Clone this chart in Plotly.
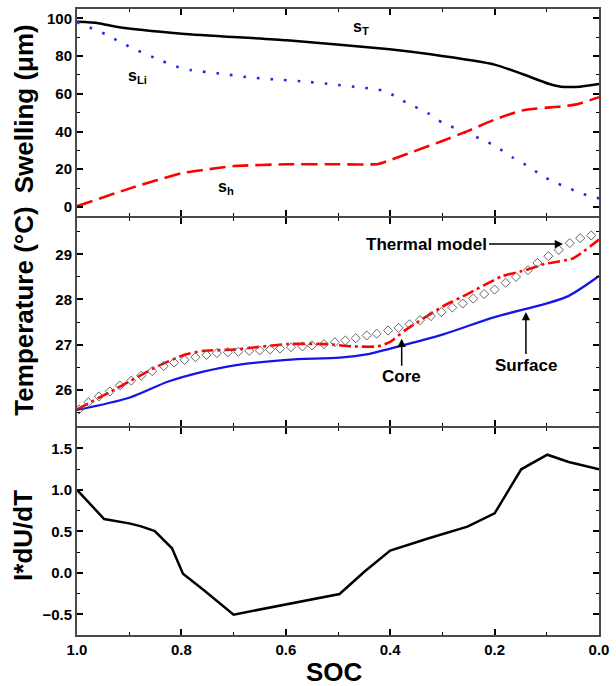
import plotly.graph_objects as go
from plotly.subplots import make_subplots

# ---------------- data ----------------
# Top panel: swelling (um)
soc_sT = [1.0, 0.959, 0.922, 0.799, 0.598, 0.401, 0.326, 0.2, 0.147, 0.095, 0.073, 0.036, 0.0]
sT = [98.2, 97.5, 95.4, 91.9, 88.4, 83.7, 81.1, 75.5, 70.5, 65.2, 63.8, 63.8, 65.2]

soc_sLi = [1.0, 0.970, 0.944, 0.917, 0.888, 0.836, 0.81, 0.783, 0.728, 0.676, 0.624, 0.568,
           0.516, 0.46, 0.434, 0.408, 0.382, 0.354, 0.328, 0.3, 0.274, 0.248, 0.22, 0.194,
           0.166, 0.14, 0.114, 0.088, 0.062, 0.036, 0.0]
sLi = [98.0, 94.5, 91.5, 87.4, 83.5, 77.3, 74.5, 72.6, 70.8, 68.9, 67.7, 66.6,
       65.2, 63.5, 62.6, 61.4, 57.2, 53.3, 49.8, 44.7, 41.6, 38.4, 35.4, 31.4,
       26.3, 22.3, 17.5, 13.3, 10.5, 7.3, 4.5]

soc_sh = [1.0, 0.9, 0.799, 0.758, 0.698, 0.598, 0.497, 0.423, 0.4, 0.356, 0.3, 0.252,
          0.2, 0.147, 0.073, 0.043, 0.0]
sh = [0.4, 9.7, 17.9, 19.6, 21.7, 22.6, 22.6, 22.8, 24.9, 29.3, 35.0, 40.2,
      46.3, 51.2, 53.3, 54.4, 58.2]

# Middle panel: temperature (C)
soc_surf = [1.0, 0.9, 0.825, 0.758, 0.698, 0.598, 0.497, 0.445, 0.4, 0.3, 0.2, 0.103, 0.058, 0.0]
t_surf = [25.55, 25.82, 26.18, 26.40, 26.54, 26.66, 26.71, 26.78, 26.91, 27.22, 27.61, 27.90, 28.08, 28.52]

soc_core = [1.0, 0.922, 0.847, 0.795, 0.758, 0.698, 0.598, 0.523, 0.475, 0.423, 0.4, 0.371,
            0.3, 0.252, 0.185, 0.147, 0.103, 0.05, 0.0]
t_core = [25.56, 26.04, 26.51, 26.77, 26.86, 26.89, 27.01, 27.01, 26.96, 26.96, 27.06, 27.32,
          27.84, 28.12, 28.52, 28.63, 28.79, 28.91, 29.33]

soc_model = [0.996, 0.978, 0.958, 0.937, 0.918, 0.896, 0.877, 0.856, 0.834, 0.814, 0.794,
             0.773, 0.752, 0.732, 0.711, 0.691, 0.670, 0.650, 0.630, 0.611, 0.590, 0.568,
             0.550, 0.527, 0.506, 0.486, 0.466, 0.445, 0.426, 0.404, 0.384, 0.363, 0.343,
             0.322, 0.302, 0.281, 0.261, 0.241, 0.220, 0.200, 0.179, 0.159, 0.136, 0.118,
             0.097, 0.077, 0.056, 0.036, 0.015]
t_model = [25.56, 25.72, 25.85, 25.96, 26.09, 26.20, 26.31, 26.41, 26.52, 26.60, 26.66,
           26.72, 26.77, 26.81, 26.83, 26.84, 26.86, 26.87, 26.89, 26.91, 26.94, 26.96,
           26.98, 27.01, 27.05, 27.09, 27.14, 27.20, 27.24, 27.31, 27.37, 27.45, 27.54,
           27.63, 27.72, 27.82, 27.91, 28.02, 28.12, 28.22, 28.37, 28.50, 28.65, 28.81,
           28.96, 29.10, 29.25, 29.36, 29.42]

# Bottom panel: I*dU/dT
soc_idu = [1.0, 0.948, 0.9, 0.877, 0.851, 0.818, 0.797, 0.758, 0.7, 0.497, 0.449, 0.4,
           0.326, 0.252, 0.2, 0.149, 0.099, 0.058, 0.0]
idu = [1.0, 0.648, 0.596, 0.56, 0.504, 0.296, -0.012, -0.204, -0.504, -0.256, 0.016, 0.268,
       0.416, 0.556, 0.716, 1.248, 1.424, 1.336, 1.248]

x_ticks = [1.0, 0.8, 0.6, 0.4, 0.2, 0.0]
x_ticklabels = ["1.0", "0.8", "0.6", "0.4", "0.2", "0.0"]

# ---------------- figure ----------------
FONT = "Liberation Sans, Arial, sans-serif"
PLOT_TOP, PLOT_BOT = 7.0, 635.0
PLOT_H = PLOT_BOT - PLOT_TOP
LW = 2

fig = make_subplots(rows=3, cols=1, shared_xaxes=True, vertical_spacing=LW / PLOT_H)

fig.add_trace(go.Scatter(x=soc_sT, y=sT, mode="lines",
                         line=dict(color="black", width=2.5, shape="spline", smoothing=0.6),
                         name="sT"), row=1, col=1)
fig.add_trace(go.Scatter(x=soc_sLi, y=sLi, mode="lines",
                         line=dict(color="#1a2ee6", width=2.6, dash="2.6px,11px",
                                   shape="spline", smoothing=0.6), name="sLi"),
              row=1, col=1)
fig.add_trace(go.Scatter(x=soc_sh, y=sh, mode="lines",
                         line=dict(color="#ff0000", width=2.6, dash="16px,7px",
                                   shape="spline", smoothing=0.6), name="sh"),
              row=1, col=1)

fig.add_trace(go.Scatter(x=soc_surf, y=t_surf, mode="lines",
                         line=dict(color="#1515e8", width=2.3, shape="spline", smoothing=0.8),
                         name="Surface"), row=2, col=1)
fig.add_trace(go.Scatter(x=soc_core, y=t_core, mode="lines",
                         line=dict(color="#ff0000", width=2.6, dash="12px,4px,3px,4px",
                                   shape="spline", smoothing=0.5), name="Core"),
              row=2, col=1)
fig.add_trace(go.Scatter(x=soc_model, y=t_model, mode="markers",
                         marker=dict(symbol="diamond-open", size=7, color="#666666",
                                     line=dict(width=1, color="#666666")),
                         name="Thermal model"), row=2, col=1)

fig.add_trace(go.Scatter(x=soc_idu, y=idu, mode="lines",
                         line=dict(color="black", width=2.5), name="IdUdT"), row=3, col=1)

axis_common = dict(showline=True, linecolor="#4a4a4a", linewidth=LW, mirror="ticks",
                   ticks="inside", ticklen=6, tickwidth=1.5, tickcolor="black",
                   showgrid=False, zeroline=False,
                   tickfont=dict(family=FONT, size=15, color="black", weight="bold"))

minor_common = dict(ticks="inside", ticklen=3, tickwidth=1.2, tickcolor="black", showgrid=False)

for r in (1, 2, 3):
    fig.update_xaxes(range=[1.0, 0.0], tickvals=x_ticks, ticktext=x_ticklabels,
                     minor=dict(dtick=0.1, tick0=0, **minor_common),
                     **axis_common, row=r, col=1)
fig.update_xaxes(showticklabels=False, row=1, col=1)
fig.update_xaxes(showticklabels=False, row=2, col=1)

fig.update_yaxes(range=[-5, 105], dtick=20, tick0=0,
                 minor=dict(dtick=10, tick0=0, **minor_common),
                 **axis_common, row=1, col=1)
fig.update_yaxes(range=[25.2, 29.8], dtick=1, tick0=0,
                 minor=dict(dtick=0.5, tick0=0, **minor_common),
                 **axis_common, row=2, col=1)
fig.update_yaxes(range=[-0.75, 1.75], dtick=0.5, tick0=0, tickformat=".1f",
                 minor=dict(dtick=0.25, tick0=0, **minor_common),
                 **axis_common, row=3, col=1)

title_font = dict(family=FONT, size=26, color="black", weight="bold")
soc_font = dict(family=FONT, size=26, color="black", weight="bold")
lab_font = dict(family=FONT, size=17, color="black", weight="bold")
sub_font = dict(family=FONT, size=16, color="black", weight="bold")


def py(p):
    return (PLOT_BOT - p) / PLOT_H


TX = (23 - 77) / 528.0

annotations = [
    dict(text="Swelling (μm)", xref="paper", yref="paper", x=TX, y=py(107),
         textangle=-90, showarrow=False, font=title_font, xanchor="center", yanchor="middle"),
    dict(text="Temperature (°C)", xref="paper", yref="paper", x=TX, y=py(310),
         textangle=-90, showarrow=False, font=title_font, xanchor="center", yanchor="middle"),
    dict(text="I*dU/dT", xref="paper", yref="paper", x=TX, y=py(535),
         textangle=-90, showarrow=False, font=title_font, xanchor="center", yanchor="middle"),
    dict(text="SOC", xref="paper", yref="paper", x=0.494, y=py(672),
         showarrow=False, font=soc_font, xanchor="center", yanchor="middle"),
    dict(text="s<sub>T</sub>", xref="x", yref="y", x=0.455, y=95.0,
         showarrow=False, font=sub_font),
    dict(text="s<sub>Li</sub>", xref="x", yref="y", x=0.885, y=69.0,
         showarrow=False, font=sub_font),
    dict(text="s<sub>h</sub>", xref="x", yref="y", x=0.715, y=10.5,
         showarrow=False, font=sub_font),
    dict(text="Thermal model", xref="x2", yref="y2", x=0.069, y=29.23,
         ax=-136, ay=0, showarrow=True, arrowhead=2, arrowsize=1.1, arrowwidth=1.5,
         arrowcolor="black", font=lab_font),
    dict(text="Core", xref="x2", yref="y2", x=0.378, y=27.13,
         ax=0, ay=38, showarrow=True, arrowhead=2, arrowsize=1.1, arrowwidth=1.5,
         arrowcolor="black", font=lab_font),
    dict(text="Surface", xref="x2", yref="y2", x=0.14, y=27.72,
         ax=0, ay=53, showarrow=True, arrowhead=2, arrowsize=1.1, arrowwidth=1.5,
         arrowcolor="black", font=lab_font),
]

fig.update_layout(width=616, height=686,
                  margin=dict(l=77, r=11, t=int(PLOT_TOP), b=int(686 - PLOT_BOT)),
                  paper_bgcolor="white", plot_bgcolor="white", showlegend=False,
                  annotations=annotations)

fig.write_html("out.html")
